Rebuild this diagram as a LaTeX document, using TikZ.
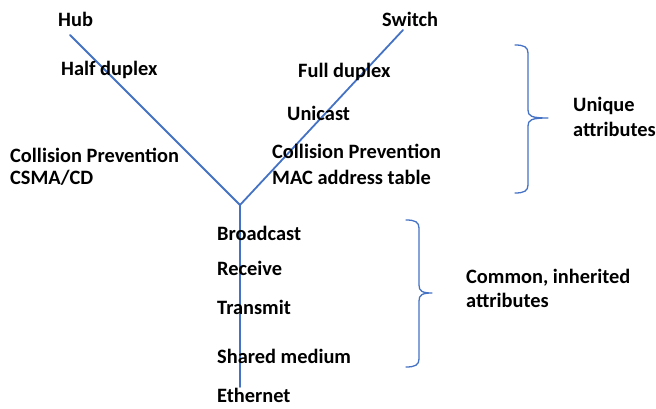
\documentclass[tikz,border=0pt]{standalone}
\usepackage{fontspec}
\setmainfont{Carlito}
\definecolor{lineblue}{RGB}{68,114,196}
\begin{document}
\begin{tikzpicture}[x=1pt, y=-1pt, font=\fontsize{20.4}{23}\selectfont\bfseries, line join=round, line cap=round]
		\useasboundingbox (0,0) rectangle (656,409);
		\path
		(70,35) coordinate (H)
		(403,30) coordinate (S)
		(240,205) coordinate (J)
		(240,387) coordinate (E);
		\draw[lineblue, line width=1.8pt]
		(H)--(J)--(S) (J)--(E);
		% braces: left end x / arm x / tip x / top / middle / bottom
		\foreach \a/\b/\c/\t/\m/\u in {515/528/548/45/118/193, 406/419/432/220/293/367}
		\draw[lineblue, line width=1.3pt]
		(\a,\t) .. controls (\b-4,\t) and (\b,\t+2) .. (\b,\t+8) -- (\b,\m-8)
		.. controls (\b,\m-2) and (\b+3,\m) .. (\c,\m)
		.. controls (\b+3,\m) and (\b,\m+2) .. (\b,\m+8) -- (\b,\u-8)
		.. controls (\b,\u-2) and (\b-4,\u) .. (\a,\u);
		\foreach \n/\x/\y/\t in {hub/58/27/Hub, half/61/76/Half duplex, colL/10/162/Collision Prevention, csma/10/185/{CSMA/CD},
		sw/382/27/Switch, full/298/78/Full duplex, uni/287/121/Unicast, colR/272/159/Collision Prevention, mac/272/184/MAC address table,
		uniq/573/112/Unique, attrA/573/137/attributes,
		bc/217/240/Broadcast, rx/217/275/Receive, tx/217/314/Transmit, shm/217/363/Shared medium, eth/217/402/Ethernet,
		com/466/283/{Common, inherited}, attrB/466/307/attributes}
		\node[anchor=base west, inner sep=0pt] (\n) at (\x,\y) {\t};
		\end{tikzpicture}
\end{document}
